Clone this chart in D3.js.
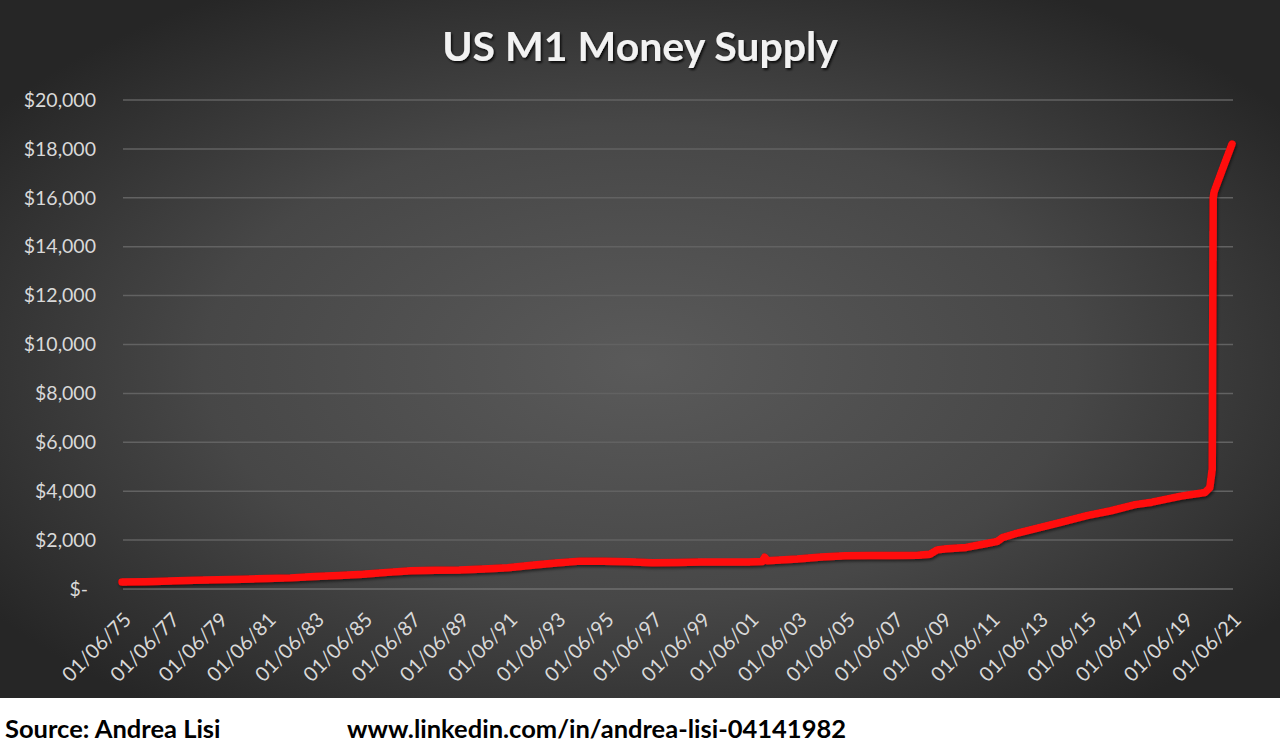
<!DOCTYPE html>
<html>
<head>
<meta charset="utf-8">
<script src="https://cdn.jsdelivr.net/npm/d3@7"></script>
<style>
  html, body { margin: 0; padding: 0; background: #ffffff; }
  svg { display: block; }
</style>
</head>
<body>
<svg id="chart" width="1280" height="744"></svg>
<script>
// ---- data ----
const years = [1975.42, 1976.4, 1977.4, 1978.4, 1979.4, 1980.4, 1981.4, 1982.4, 1983.4, 1984.4,
  1985.4, 1986.4, 1987.4, 1988.4, 1989.4, 1990.4, 1991.4, 1992.4, 1993.4, 1994.4,
  1995.4, 1996.4, 1997.4, 1998.4, 1999.4, 2000.4, 2001.4, 2001.95, 2002.05, 2002.15,
  2003.4, 2004.4, 2005.4, 2006.4, 2007.4, 2008.4, 2008.9, 2009.2, 2009.6, 2010.4,
  2011.2, 2011.7, 2011.9, 2012.4, 2013.4, 2014.4, 2015.4, 2016.4, 2017.4, 2018.1,
  2019.3, 2020.3, 2020.5, 2020.6, 2020.64, 2020.68, 2021.0, 2021.42];
const values = [285, 300, 325, 355, 380, 400, 430, 455, 510, 550,
  600, 680, 745, 770, 780, 815, 870, 970, 1060, 1140,
  1140, 1110, 1070, 1080, 1100, 1100, 1100, 1120, 1300, 1160,
  1230, 1310, 1360, 1370, 1370, 1380, 1420, 1600, 1650, 1700,
  1850, 1950, 2100, 2250, 2500, 2750, 3000, 3200, 3450, 3550,
  3800, 3950, 4150, 4900, 16000, 16250, 17100, 18200];
const tickYears = [1975.42, 1977.42, 1979.42, 1981.42, 1983.42, 1985.42, 1987.42, 1989.42,
  1991.42, 1993.42, 1995.42, 1997.42, 1999.42, 2001.42, 2003.42, 2005.42, 2007.42,
  2009.42, 2011.42, 2013.42, 2015.42, 2017.42, 2019.42, 2021.42];
const tickLabels = ["01/06/75", "01/06/77", "01/06/79", "01/06/81", "01/06/83", "01/06/85",
  "01/06/87", "01/06/89", "01/06/91", "01/06/93", "01/06/95", "01/06/97", "01/06/99",
  "01/06/01", "01/06/03", "01/06/05", "01/06/07", "01/06/09", "01/06/11", "01/06/13",
  "01/06/15", "01/06/17", "01/06/19", "01/06/21"];
const yTicks = [0, 2000, 4000, 6000, 8000, 10000, 12000, 14000, 16000, 18000, 20000];
const titleText = "US M1 Money Supply";
const sourceText = "Source: Andrea Lisi";
const urlText = "www.linkedin.com/in/andrea-lisi-04141982";

const data = years.map((y, i) => ({ year: y, value: values[i] }));

const W = 1280, H = 744, bgH = 698;
const svg = d3.select("#chart");
const defs = svg.append("defs");

const grad = defs.append("radialGradient").attr("id", "bg")
  .attr("cx", "0.5").attr("cy", "0.52").attr("r", "0.62")
  .attr("gradientUnits", "objectBoundingBox");
grad.append("stop").attr("offset", "0").attr("stop-color", "#5a5a5a");
grad.append("stop").attr("offset", "0.55").attr("stop-color", "#474747");
grad.append("stop").attr("offset", "1").attr("stop-color", "#262626");

const shadow = defs.append("filter").attr("id", "lineShadow")
  .attr("x", "-5%").attr("y", "-5%").attr("width", "110%").attr("height", "110%");
shadow.append("feDropShadow").attr("dx", 1).attr("dy", 2).attr("stdDeviation", 1.6)
  .attr("flood-color", "#000").attr("flood-opacity", 0.55);

const tshadow = defs.append("filter").attr("id", "titleShadow");
tshadow.append("feDropShadow").attr("dx", 1.5).attr("dy", 2).attr("stdDeviation", 1.2)
  .attr("flood-color", "#000").attr("flood-opacity", 0.8);

svg.append("rect").attr("x", 0).attr("y", 0).attr("width", W).attr("height", bgH)
  .attr("fill", "url(#bg)");

const x = d3.scaleLinear().domain([1975.42, 2021.42]).range([122, 1232]);
const y = d3.scaleLinear().domain([0, 20000]).range([589, 100]);

// gridlines
svg.append("g").selectAll("line").data(yTicks).join("line")
  .attr("x1", 123).attr("x2", 1233)
  .attr("y1", d => y(d)).attr("y2", d => y(d))
  .attr("stroke", d => d === 0 ? "#6e6e6e" : "#626262")
  .attr("stroke-width", 1.5);

// y axis
const fmt = d3.format(",");
const yAxis = d3.axisLeft(y).tickValues(yTicks).tickSize(0).tickPadding(0)
  .tickFormat(d => d === 0 ? "$-" : "$" + fmt(d));
const gy = svg.append("g").attr("transform", "translate(96,0)").call(yAxis);
gy.select(".domain").remove();
gy.selectAll("text")
  .attr("fill", "#d9d9d9")
  .attr("font-family", "Lato, 'Open Sans', sans-serif")
  .attr("font-size", 19.5)
  .attr("dx", d => d === 0 ? -8 : 0);

// x axis
const xAxis = d3.axisBottom(x).tickValues(tickYears).tickSize(0).tickPadding(0)
  .tickFormat((d, i) => tickLabels[i]);
const gx = svg.append("g").attr("transform", "translate(0,589)").call(xAxis);
gx.select(".domain").remove();
gx.selectAll("text")
  .attr("fill", "#d9d9d9")
  .attr("font-family", "Lato, 'Open Sans', sans-serif")
  .attr("font-size", 20)
  .attr("text-anchor", "end")
  .attr("dy", 0)
  .attr("transform", "translate(10,32) rotate(-45)");

// line
const line = d3.line().x(d => x(d.year)).y(d => y(d.value)).curve(d3.curveLinear);
svg.append("path").datum(data)
  .attr("d", line)
  .attr("fill", "none")
  .attr("stroke", "#ff0a0a")
  .attr("stroke-width", 7.5)
  .attr("stroke-linejoin", "round")
  .attr("stroke-linecap", "round")
  .attr("filter", "url(#lineShadow)");

// title
svg.append("text").attr("x", 640).attr("y", 61)
  .attr("text-anchor", "middle")
  .attr("fill", "#f2f2f2")
  .attr("font-family", "Lato, 'Open Sans', sans-serif")
  .attr("font-weight", "bold")
  .attr("font-size", 41)
  .attr("filter", "url(#titleShadow)")
  .text(titleText);

// footer
svg.append("text").attr("x", 5).attr("y", 738)
  .attr("fill", "#000").attr("font-family", "Lato, 'Open Sans', sans-serif")
  .attr("font-weight", "bold").attr("font-size", 25.5).text(sourceText);
svg.append("text").attr("x", 347).attr("y", 738)
  .attr("fill", "#000").attr("font-family", "Lato, 'Open Sans', sans-serif")
  .attr("font-weight", "bold").attr("font-size", 25.5).text(urlText);
</script>
</body>
</html>
